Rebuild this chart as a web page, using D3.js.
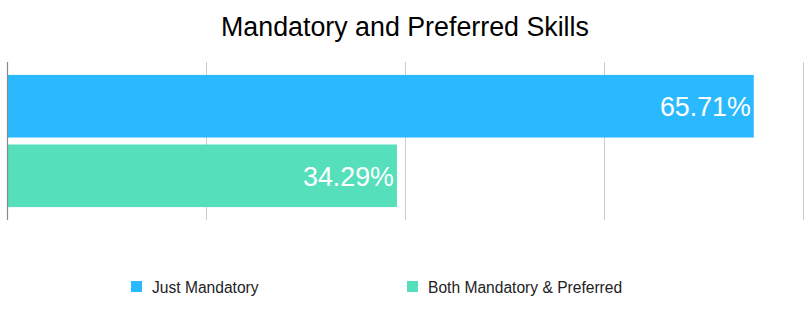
<!DOCTYPE html>
<html><head><meta charset="utf-8">
<script src="https://cdn.jsdelivr.net/npm/d3@7"></script>
<style>body{margin:0;background:#fff;font-family:"Liberation Sans",Arial,Helvetica,sans-serif}</style>
</head><body>
<svg id="c" width="810" height="310"></svg>
<script>
const categories = ["Just Mandatory", "Both Mandatory & Preferred"];
const values = [65.71, 34.29];
const colors = ["#2ab9fe", "#55dfbb"];
const xTicks = [0, 17.5, 35, 52.5, 70];
const title = "Mandatory and Preferred Skills";

const svg = d3.select("#c");
const x = d3.scaleLinear().domain([0, 70]).range([7.5, 802.5]);
const y = d3.scaleBand().domain(categories).range([62, 220]).paddingInner(0.1).paddingOuter(0.186);

svg.append("text").attr("x", 405).attr("y", 36).attr("text-anchor", "middle")
  .attr("font-size", 26.8).attr("fill", "#000").text(title);

svg.append("g").selectAll("line").data(xTicks.slice(1)).join("line")
  .attr("x1", d => Math.round(x(d)) + 0.5).attr("x2", d => Math.round(x(d)) + 0.5)
  .attr("y1", 62).attr("y2", 220).attr("stroke", "#cccccc").attr("stroke-width", 1);

svg.append("g").selectAll("rect").data(values).join("rect")
  .attr("x", x(0)).attr("y", (d, i) => y(categories[i]))
  .attr("width", d => x(d) - x(0)).attr("height", y.bandwidth())
  .attr("fill", (d, i) => colors[i]);

svg.append("line").attr("x1", x(0)).attr("x2", x(0)).attr("y1", 62).attr("y2", 220)
  .attr("stroke", "#888").attr("stroke-width", 1.2);

svg.append("g").selectAll("text").data(values).join("text")
  .attr("x", d => x(d) - 3).attr("y", (d, i) => y(categories[i]) + y.bandwidth() / 2 + 10)
  .attr("text-anchor", "end").attr("font-size", 26.8).attr("fill", "#fff")
  .text(d => d.toFixed(2) + "%");

const legX = [131, 407];
const lg = svg.append("g").selectAll("g").data(categories).join("g")
  .attr("transform", (d, i) => `translate(${legX[i]},281)`);
lg.append("rect").attr("width", 11).attr("height", 11).attr("fill", (d, i) => colors[i]);
lg.append("text").attr("x", 21).attr("y", 11.5).attr("font-size", 15.6).attr("fill", "#222").text(d => d);
</script>
</body></html>
